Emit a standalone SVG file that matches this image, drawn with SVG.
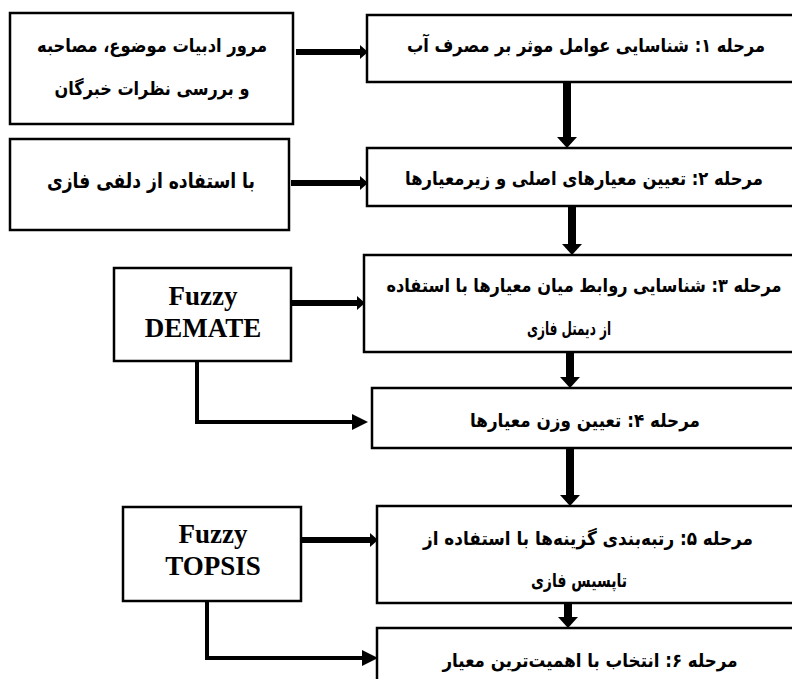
<svg xmlns="http://www.w3.org/2000/svg" width="792" height="679" viewBox="0 0 792 679">
<defs>
<style>
.box{fill:#fff;stroke:#000;stroke-width:2.5}
.fa{font-family:"DejaVu Sans",sans-serif;font-weight:bold;font-size:19px;fill:#000}
.en{font-family:"Liberation Serif",serif;font-weight:bold;font-size:27px;fill:#000}
.h{stroke:#000;stroke-width:6;fill:none}
.v{stroke:#000;stroke-width:8;fill:none}
.e{stroke:#000;stroke-width:4;fill:none}
</style>
<marker id="mh" markerUnits="userSpaceOnUse" markerWidth="8" markerHeight="14" refX="0" refY="7" orient="auto"><path d="M0,0 L8,7 L0,14 Z" fill="#000"/></marker>
<marker id="mv" markerUnits="userSpaceOnUse" markerWidth="11" markerHeight="20" refX="0" refY="10" orient="auto"><path d="M0,0 L11,10 L0,20 Z" fill="#000"/></marker>
<marker id="me" markerUnits="userSpaceOnUse" markerWidth="16" markerHeight="16" refX="0" refY="8" orient="auto"><path d="M0,0 L16,8 L0,16 Z" fill="#000"/></marker>
</defs>
<rect width="792" height="679" fill="#fff"/>
<g id="connectors">
<line class="h" x1="296" y1="52" x2="360" y2="52" marker-end="url(#mh)"/>
<line class="h" x1="291" y1="183" x2="360" y2="183" marker-end="url(#mh)"/>
<line class="h" x1="291" y1="303" x2="357" y2="303" marker-end="url(#mh)"/>
<line class="h" x1="301" y1="540" x2="370" y2="540" marker-end="url(#mh)"/>
<line class="v" x1="567" y1="82" x2="567" y2="137" marker-end="url(#mv)"/>
<line class="v" x1="572" y1="206" x2="572" y2="244" marker-end="url(#mv)"/>
<line class="v" x1="570" y1="352" x2="570" y2="377" marker-end="url(#mv)"/>
<line class="v" x1="570" y1="448" x2="570" y2="495" marker-end="url(#mv)"/>
<line class="v" x1="568" y1="603" x2="568" y2="617" marker-end="url(#mv)"/>
<path class="e" d="M197,361 V422 H352" marker-end="url(#me)"/>
<path class="e" d="M207,601 V658 H362" marker-end="url(#me)"/>
</g>
<g id="n-lit">
<rect class="box" x="10" y="13" width="283" height="111"/>
<text class="fa" x="152" y="52" text-anchor="middle" direction="rtl" textLength="230" lengthAdjust="spacingAndGlyphs">مرور ادبیات موضوع، مصاحبه</text>
<text class="fa" x="152" y="95" text-anchor="middle" direction="rtl" textLength="195" lengthAdjust="spacingAndGlyphs">و بررسی نظرات خبرگان</text>
</g>
<g id="n-delphi">
<rect class="box" x="10" y="139" width="279" height="91"/>
<text class="fa" x="151" y="188" text-anchor="middle" direction="rtl" style="font-size:21px" textLength="208" lengthAdjust="spacingAndGlyphs">با استفاده از دلفی فازی</text>
</g>
<g id="n-s1">
<rect class="box" x="367" y="15" width="440" height="67"/>
<text class="fa" x="586" y="52" text-anchor="middle" direction="rtl" textLength="358" lengthAdjust="spacingAndGlyphs">مرحله ۱: شناسایی عوامل موثر بر مصرف  آب</text>
</g>
<g id="n-s2">
<rect class="box" x="367" y="148" width="440" height="58"/>
<text class="fa" x="584" y="185" text-anchor="middle" direction="rtl" textLength="358" lengthAdjust="spacingAndGlyphs">مرحله ۲: تعیین معیارهای اصلی و زیرمعیارها</text>
</g>
<g id="n-demate">
<rect class="box" x="114" y="268" width="177" height="93"/>
<text class="en" x="203" y="305" text-anchor="middle">Fuzzy</text>
<text class="en" x="203" y="337" text-anchor="middle">DEMATE</text>
</g>
<g id="n-s3">
<rect class="box" x="364" y="255" width="443" height="97"/>
<text class="fa" x="584" y="292" text-anchor="middle" direction="rtl" textLength="395" lengthAdjust="spacingAndGlyphs">مرحله ۳: شناسایی روابط میان معیارها با استفاده</text>
<text class="fa" x="569" y="335" text-anchor="middle" direction="rtl" textLength="84" lengthAdjust="spacingAndGlyphs">از دیمتل فازی</text>
</g>
<g id="n-s4">
<rect class="box" x="372" y="388" width="435" height="60"/>
<text class="fa" x="585" y="427" text-anchor="middle" direction="rtl" textLength="230" lengthAdjust="spacingAndGlyphs">مرحله ۴: تعیین وزن معیارها</text>
</g>
<g id="n-topsis">
<rect class="box" x="123" y="507" width="178" height="94"/>
<text class="en" x="213" y="543" text-anchor="middle">Fuzzy</text>
<text class="en" x="213" y="575" text-anchor="middle">TOPSIS</text>
</g>
<g id="n-s5">
<rect class="box" x="377" y="506" width="430" height="97"/>
<text class="fa" x="588" y="545" text-anchor="middle" direction="rtl" textLength="330" lengthAdjust="spacingAndGlyphs">مرحله ۵: رتبه‌بندی گزینه‌ها با استفاده از</text>
<text class="fa" x="579" y="587" text-anchor="middle" direction="rtl" textLength="96" lengthAdjust="spacingAndGlyphs">تاپسیس فازی</text>
</g>
<g id="n-s6">
<rect class="box" x="377" y="628" width="430" height="70"/>
<text class="fa" x="590" y="667" text-anchor="middle" direction="rtl" textLength="295" lengthAdjust="spacingAndGlyphs">مرحله ۶: انتخاب با اهمیت‌ترین معیار</text>
</g>
</svg>
